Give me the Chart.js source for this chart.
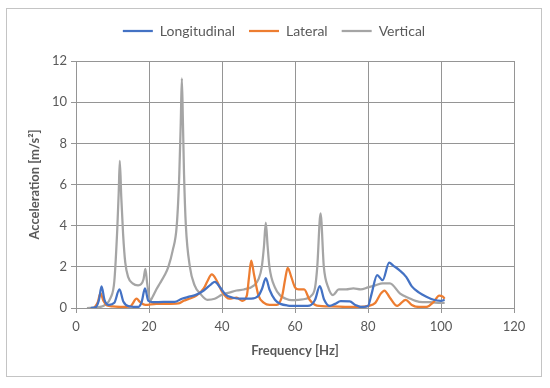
<!DOCTYPE html>
<html>
<head>
<meta charset="utf-8">
<script src="https://cdn.jsdelivr.net/npm/chart.js@4/dist/chart.umd.min.js"></script>
<style>
	body { margin: 0; background: #fff; }
	#wrap { position: absolute; left: 0; top: 0; width: 550px; height: 388px; }
</style>
</head>
<body>
<div id="wrap"><canvas id="myChart" width="550" height="388"></canvas></div>
<script>
const seriesNames = ['Longitudinal', 'Lateral', 'Vertical'];
const xTicks = [0, 20, 40, 60, 80, 100, 120];
const yTicks = [0, 2, 4, 6, 8, 10, 12];

const longFreq = [4, 5.5, 6.3, 7, 7.8, 9, 10.5, 11.9, 13, 14.5, 17, 18, 18.9, 19.8, 21, 24, 27, 29, 31, 33, 35, 37, 38, 39.5, 41, 43, 45, 48, 50, 51, 52, 53, 54.5, 56, 58, 61, 64, 65.5, 66.8, 68, 69.5, 71, 72.5, 75, 76.5, 78, 80, 81, 82.5, 84, 85.8, 87, 88.5, 90.5, 92, 94, 96, 98, 100, 101];
const longAcc = [0, 0.05, 0.4, 1.05, 0.4, 0.15, 0.25, 0.9, 0.3, 0.08, 0.05, 0.3, 0.95, 0.35, 0.28, 0.3, 0.3, 0.45, 0.55, 0.65, 0.85, 1.15, 1.27, 1.0, 0.65, 0.5, 0.45, 0.45, 0.6, 0.95, 1.45, 0.9, 0.4, 0.2, 0.12, 0.1, 0.12, 0.4, 1.06, 0.4, 0.1, 0.2, 0.33, 0.32, 0.15, 0.05, 0.1, 0.7, 1.6, 1.35, 2.2, 2.05, 1.85, 1.5, 1.05, 0.75, 0.55, 0.4, 0.35, 0.4];

const latFreq = [5, 6, 6.7, 7.5, 8.5, 10, 13, 15, 16.6, 17.5, 19, 22, 25, 28, 29.5, 31, 33, 35, 36, 37.2, 38.5, 40, 42, 44, 45.5, 46.8, 47.4, 48, 48.8, 50, 51.5, 53, 55, 56.5, 57.3, 58, 59, 60, 61, 62.5, 64, 66, 70, 75, 78, 80, 82, 83.5, 84.5, 86, 88, 90.3, 92, 94, 96, 98, 99.5, 100.5, 101];
const latAcc = [0, 0.3, 0.72, 0.35, 0.12, 0.08, 0.05, 0.1, 0.45, 0.3, 0.15, 0.2, 0.2, 0.22, 0.35, 0.45, 0.6, 0.95, 1.3, 1.63, 1.35, 0.8, 0.45, 0.5, 0.35, 0.6, 1.5, 2.3, 1.6, 0.6, 0.25, 0.15, 0.15, 0.6, 1.4, 1.95, 1.5, 1.0, 0.9, 0.9, 0.4, 0.12, 0.08, 0.05, 0.05, 0.1, 0.25, 0.7, 0.85, 0.5, 0.1, 0.4, 0.15, 0.05, 0.05, 0.3, 0.6, 0.55, 0.45];

const vertFreq = [3, 6, 8, 9.5, 10.5, 11.3, 11.7, 12, 12.4, 12.9, 13.5, 14.3, 15.5, 17, 17.8, 18.5, 19, 19.5, 20.3, 21, 22, 23, 24.3, 25.3, 26.5, 27.6, 28.3, 28.7, 29, 29.3, 29.6, 30.1, 31.2, 32.5, 34, 36, 38, 40, 42, 44, 46, 48.8, 50, 50.9, 51.5, 52, 52.5, 53, 54.5, 56, 57.5, 59, 61, 63, 64.5, 65.5, 66.1, 67, 67.9, 69.1, 70.4, 72, 74, 76, 78, 80, 82, 84, 86, 88.8, 91, 94, 97, 100, 101];
const vertAcc = [0, 0.03, 0.15, 0.5, 1.3, 3.8, 5.6, 7.15, 5.4, 3.6, 2.2, 1.5, 1.2, 1.1, 1.15, 1.4, 1.9, 1.2, 0.35, 0.55, 0.9, 1.2, 1.6, 2.0, 2.8, 4.0, 6.5, 9.0, 11.15, 9.0, 6.5, 4.0, 2.0, 1.1, 0.7, 0.4, 0.45, 0.65, 0.75, 0.85, 0.9, 1.1, 1.4, 2.0, 3.0, 4.15, 3.0, 2.0, 1.0, 0.6, 0.45, 0.38, 0.4, 0.45, 0.6, 1.0, 2.0, 4.6, 2.0, 1.0, 0.63, 0.9, 0.9, 0.95, 0.9, 1.0, 1.1, 1.2, 1.2, 0.7, 0.5, 0.3, 0.28, 0.25, 0.25];

const lineColors = ['#4472C4', '#ED7D31', '#A5A5A5'];

const toPoints = (xs, ys) => xs.map((x, i) => ({ x, y: ys[i] }));

// white background + outer frame like the spreadsheet chart area
const frame = {
	id: 'frame',
	beforeDraw(chart) {
		const c = chart.ctx;
		c.save();
		c.fillStyle = '#fff';
		c.fillRect(0, 0, chart.width, chart.height);
		c.strokeStyle = '#c4c4c4';
		c.lineWidth = 1;
		c.strokeRect(6.5, 8.5, 535, 368);
		c.restore();
	},
};

// extra gap under the legend, and nudge it right a bit
const legendSpace = {
	id: 'legendSpace',
	beforeInit(chart) {
		const fit = chart.legend.fit;
		chart.legend.fit = function () {
			fit.bind(chart.legend)();
			this.height += 13;
		};
	},
	afterLayout(chart) {
		chart.legend.left += 17;
		chart.legend.right += 17;
	},
};

const ctx = document.getElementById('myChart').getContext('2d');
const allData = [toPoints(longFreq, longAcc), toPoints(latFreq, latAcc), toPoints(vertFreq, vertAcc)];

const myChart = new Chart(ctx, {
	type: 'line',
	data: {
		datasets: seriesNames.map((name, i) => ({
			label: name,
			data: allData[i],
			borderColor: lineColors[i],
			backgroundColor: lineColors[i],
			borderWidth: 2.25,
			pointRadius: 0,
			tension: 0.4,
			cubicInterpolationMode: 'monotone',
		})),
	},
	plugins: [frame, legendSpace],
	options: {
		responsive: false,
		animation: false,
		layout: { padding: { left: 0, right: 36, top: 10, bottom: 16 } },
		plugins: {
			legend: {
				position: 'top',
				labels: {
					usePointStyle: true,
					pointStyle: 'line',
					pointStyleWidth: 30,
					boxHeight: 2,
					color: '#595959',
					font: { family: 'Lato', size: 14 },
					padding: 14,
				},
			},
			tooltip: { enabled: false },
		},
		scales: {
			x: {
				type: 'linear',
				min: 0,
				max: 120,
				afterBuildTicks: (s) => { s.ticks = xTicks.map((v) => ({ value: v })); },
				afterFit: (s) => { s.height = 64; },
				grid: { color: '#959595', tickLength: 5, lineWidth: 1 },
				border: { color: '#959595' },
				ticks: { color: '#595959', font: { family: 'Lato', size: 13 }, padding: 6 },
				title: {
					display: true,
					text: 'Frequency [Hz]',
					color: '#595959',
					font: { family: 'Lato', size: 13, weight: 'bold' },
					padding: { top: 0, bottom: 13 },
				},
			},
			y: {
				min: 0,
				max: 12,
				afterBuildTicks: (s) => { s.ticks = yTicks.map((v) => ({ value: v })); },
				afterFit: (s) => { s.width = 76; },
				grid: { color: '#959595', tickLength: 5, lineWidth: 1 },
				border: { color: '#959595' },
				ticks: { color: '#595959', font: { family: 'Lato', size: 13 }, padding: 4 },
				title: {
					display: true,
					text: 'Acceleration [m/s²]',
					color: '#595959',
					font: { family: 'Lato', size: 13, weight: 'bold' },
					padding: { top: 27, bottom: 0 },
				},
			},
		},
	},
});
</script>
</body>
</html>
